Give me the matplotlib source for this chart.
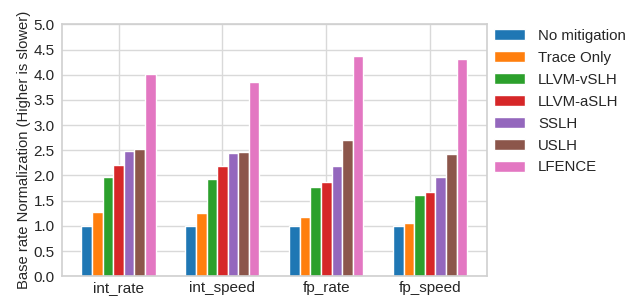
import matplotlib

matplotlib.use("Agg")
import matplotlib.pyplot as plt
import numpy as np
import seaborn as sns

benchmarks = ["int_rate", "int_speed", "fp_rate", "fp_speed"]
configs = ["No mitigation", "Trace Only", "LLVM-vSLH", "LLVM-aSLH", "SSLH", "USLH", "LFENCE"]
no_mitigation = [1.00, 1.00, 1.00, 1.00]
trace_only = [1.27, 1.25, 1.17, 1.05]
llvm_vslh = [1.96, 1.92, 1.77, 1.61]
llvm_aslh = [2.20, 2.18, 1.88, 1.67]
sslh = [2.48, 2.44, 2.18, 1.96]
uslh = [2.52, 2.46, 2.70, 2.43]
lfence = [4.01, 3.85, 4.37, 4.31]
series = [no_mitigation, trace_only, llvm_vslh, llvm_aslh, sslh, uslh, lfence]

sns.set_style("whitegrid")
plt.rcParams["font.family"] = ["Liberation Sans", "DejaVu Sans"]
colors = plt.get_cmap("tab10").colors

fig, ax = plt.subplots(figsize=(6.37, 2.97), dpi=100)
x = np.arange(len(benchmarks))
width = 0.102
for i, (name, vals) in enumerate(zip(configs, series)):
    ax.bar(x + (i - 3) * width, vals, width, label=name, color=colors[i], zorder=2)

ax.set_xticks(x)
ax.set_xticklabels(benchmarks, fontsize=11, color=".15")
ax.set_xlim(-0.54, 3.55)
ax.set_ylim(0, 5)
ax.set_yticks(np.arange(0, 5.01, 0.5))
ax.tick_params(axis="y", labelsize=11, labelcolor=".15", pad=2)
ax.tick_params(axis="x", pad=0)
ax.set_ylabel("Base rate Normalization (Higher is slower)", fontsize=10.6, color=".15",
              labelpad=2)
ax.grid(True, color="#d9d9d9", linewidth=1)
for s in ax.spines.values():
    s.set_color("#d0d0d0")
    s.set_linewidth(1.2)

ax.legend(loc="upper left", bbox_to_anchor=(0.988, 1.03), borderaxespad=0.4, frameon=False,
          fontsize=10.8, handlelength=2.07, handleheight=0.73, labelspacing=0.53,
          handletextpad=0.85, labelcolor=".15")

fig.subplots_adjust(left=0.098, right=0.765, top=0.918, bottom=0.07)
fig.savefig("out.png", dpi=100)
